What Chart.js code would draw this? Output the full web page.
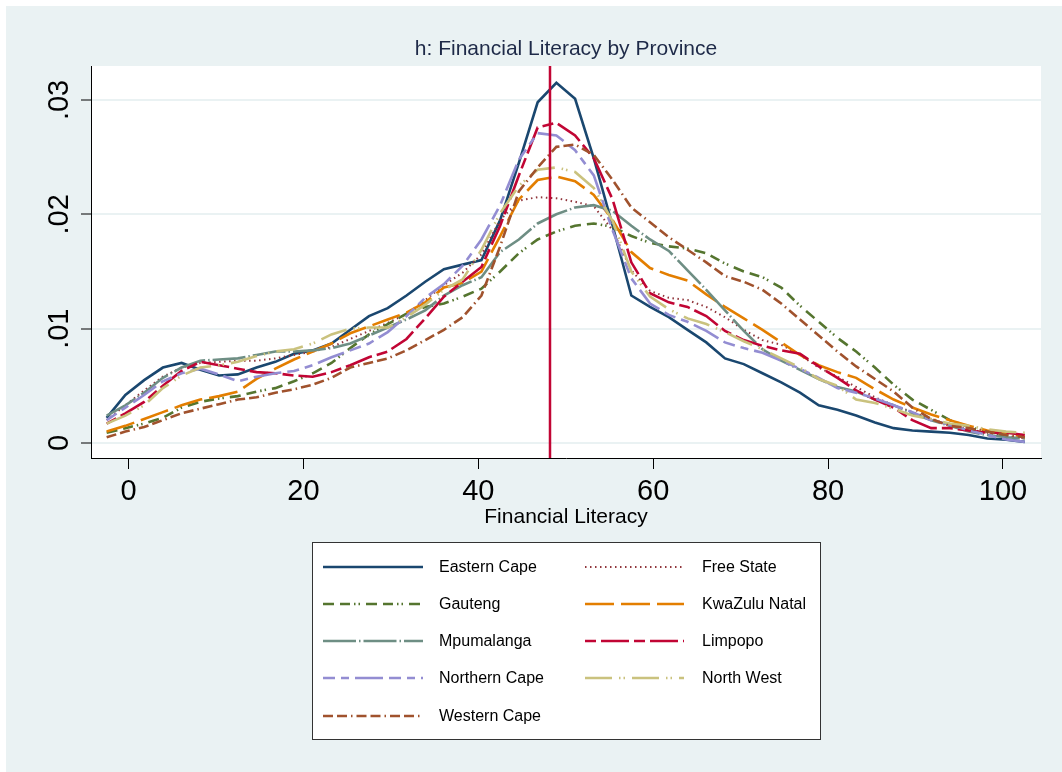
<!DOCTYPE html>
<html>
<head>
<meta charset="utf-8">
<script src="https://cdn.jsdelivr.net/npm/chart.js@4.4.1/dist/chart.umd.min.js"></script>
<style>
  html, body { margin: 0; padding: 0; background: #ffffff; }
  canvas { display: block; }
</style>
</head>
<body>
<canvas id="chart" width="1062" height="772"></canvas>
<script>
// Evaluation points of the kernel density estimates (financial literacy score)
const literacyGrid = [-2.5, -0.36, 1.79, 3.93, 6.07, 8.21, 10.36, 12.5, 14.64, 16.79,
  18.93, 21.07, 23.21, 25.36, 27.5, 29.64, 31.79, 33.93, 36.07, 38.21,
  40.36, 42.5, 44.64, 46.79, 48.93, 51.07, 53.21, 55.36, 57.5, 59.64,
  61.79, 63.93, 66.07, 68.21, 70.36, 72.5, 74.64, 76.79, 78.93, 81.07,
  83.21, 85.36, 87.5, 89.64, 91.79, 93.93, 96.07, 98.21, 100.36, 102.5];

// Density by province
const easternCape = [0.0022,0.0042,0.0055,0.0066,0.0070,0.0064,0.0059,0.0060,0.0066,0.0071,
  0.0078,0.0081,0.0087,0.0099,0.0111,0.0118,0.0129,0.0141,0.0152,0.0156,
  0.0160,0.0195,0.0245,0.0298,0.0315,0.0301,0.0249,0.0190,0.0129,0.0119,
  0.0110,0.0099,0.0088,0.0074,0.0069,0.0061,0.0053,0.0044,0.0033,0.0029,
  0.0024,0.0018,0.0013,0.0011,0.0010,0.0009,0.0007,0.0004,0.0003,0.0001];
const freeState = [0.0020,0.0033,0.0046,0.0058,0.0066,0.0070,0.0071,0.0072,0.0072,0.0074,
  0.0077,0.0080,0.0084,0.0091,0.0098,0.0105,0.0113,0.0125,0.0138,0.0149,
  0.0165,0.0195,0.0212,0.0215,0.0214,0.0211,0.0207,0.0186,0.0151,0.0133,
  0.0127,0.0125,0.0119,0.0110,0.0099,0.0090,0.0086,0.0077,0.0066,0.0058,
  0.0049,0.0040,0.0033,0.0027,0.0021,0.0016,0.0012,0.0009,0.0006,0.0004];
const gauteng = [0.0009,0.0013,0.0017,0.0022,0.0031,0.0036,0.0039,0.0041,0.0045,0.0048,
  0.0054,0.0061,0.0070,0.0083,0.0095,0.0104,0.0113,0.0119,0.0122,0.0128,
  0.0135,0.0150,0.0166,0.0178,0.0185,0.0190,0.0192,0.0189,0.0181,0.0175,
  0.0172,0.0170,0.0166,0.0157,0.0150,0.0145,0.0136,0.0120,0.0106,0.0092,
  0.0080,0.0066,0.0051,0.0038,0.0029,0.0020,0.0014,0.0010,0.0006,0.0004];
const kwaZuluNatal = [0.0010,0.0015,0.0021,0.0027,0.0033,0.0038,0.0041,0.0045,0.0056,0.0065,
  0.0073,0.0080,0.0087,0.0096,0.0102,0.0108,0.0114,0.0123,0.0136,0.0140,
  0.0150,0.0181,0.0213,0.0230,0.0233,0.0229,0.0217,0.0195,0.0167,0.0153,
  0.0147,0.0142,0.0130,0.0119,0.0109,0.0099,0.0088,0.0077,0.0068,0.0062,
  0.0057,0.0047,0.0038,0.0031,0.0025,0.0020,0.0015,0.0011,0.0009,0.0005];
const mpumalanga = [0.0024,0.0033,0.0044,0.0057,0.0066,0.0072,0.0073,0.0074,0.0077,0.0080,
  0.0080,0.0081,0.0083,0.0087,0.0094,0.0101,0.0108,0.0116,0.0129,0.0138,
  0.0145,0.0167,0.0178,0.0192,0.0200,0.0206,0.0208,0.0203,0.0190,0.0178,
  0.0168,0.0151,0.0134,0.0116,0.0098,0.0082,0.0072,0.0064,0.0056,0.0049,
  0.0045,0.0038,0.0033,0.0026,0.0020,0.0015,0.0010,0.0007,0.0005,0.0004];
const limpopo = [0.0017,0.0026,0.0036,0.0050,0.0063,0.0071,0.0068,0.0065,0.0062,0.0061,
  0.0059,0.0058,0.0062,0.0068,0.0075,0.0080,0.0091,0.0109,0.0128,0.0141,
  0.0154,0.0190,0.0234,0.0276,0.0280,0.0269,0.0249,0.0213,0.0158,0.0131,
  0.0123,0.0119,0.0111,0.0098,0.0090,0.0085,0.0081,0.0078,0.0067,0.0057,
  0.0046,0.0038,0.0031,0.0020,0.0013,0.0013,0.0011,0.0009,0.0009,0.0007];
const northernCape = [0.0020,0.0031,0.0042,0.0054,0.0061,0.0065,0.0060,0.0054,0.0058,0.0061,
  0.0063,0.0068,0.0075,0.0081,0.0087,0.0097,0.0111,0.0127,0.0139,0.0155,
  0.0178,0.0208,0.0248,0.0271,0.0269,0.0256,0.0234,0.0186,0.0144,0.0122,
  0.0112,0.0106,0.0098,0.0088,0.0083,0.0079,0.0072,0.0065,0.0057,0.0048,
  0.0044,0.0039,0.0033,0.0027,0.0020,0.0016,0.0011,0.0007,0.0003,0.0001];
const northWest = [0.0017,0.0024,0.0033,0.0048,0.0059,0.0066,0.0068,0.0071,0.0076,0.0080,
  0.0082,0.0087,0.0095,0.0100,0.0101,0.0101,0.0110,0.0121,0.0134,0.0143,
  0.0169,0.0201,0.0225,0.0239,0.0241,0.0237,0.0223,0.0194,0.0150,0.0128,
  0.0117,0.0109,0.0104,0.0097,0.0089,0.0082,0.0074,0.0066,0.0056,0.0050,
  0.0038,0.0035,0.0030,0.0024,0.0021,0.0017,0.0015,0.0012,0.0010,0.0009];
const westernCape = [0.0005,0.0010,0.0014,0.0020,0.0026,0.0030,0.0034,0.0038,0.0040,0.0044,
  0.0047,0.0051,0.0057,0.0066,0.0070,0.0074,0.0081,0.0090,0.0099,0.0110,
  0.0129,0.0172,0.0220,0.0241,0.0259,0.0261,0.0252,0.0230,0.0206,0.0193,
  0.0180,0.0169,0.0158,0.0146,0.0141,0.0134,0.0122,0.0108,0.0094,0.0080,
  0.0067,0.0056,0.0045,0.0031,0.0021,0.0015,0.0013,0.0010,0.0007,0.0005];

const provinceNames = ['Eastern Cape', 'Free State', 'Gauteng', 'KwaZulu Natal', 'Mpumalanga',
  'Limpopo', 'Northern Cape', 'North West', 'Western Cape'];
const provinceSeries = [easternCape, freeState, gauteng, kwaZuluNatal, mpumalanga,
  limpopo, northernCape, northWest, westernCape];

// Reference line at the overall mean score
const meanLiteracy = 48.2;

// Axis ticks
const xTickValues = [0, 20, 40, 60, 80, 100];
const yTickValues = [0, 0.01, 0.02, 0.03];
const yTickLabels = ['0', '.01', '.02', '.03'];

// Axis ranges
const xRange = [-4.29, 104.35];
const yRange = [-0.00131, 0.03297];

const FONT = "'Liberation Sans', Arial, Helvetica, sans-serif";
Chart.defaults.font.family = FONT;

// Line styles per province (colour, dash pattern, width)
const lineStyles = [
  { color: '#1A476F', dash: [], width: 2.6 },
  { color: '#90353B', dash: [1.5, 3.5], width: 2 },
  { color: '#55752F', dash: [11, 6, 10, 4, 1.5, 3, 1.5, 6], width: 2.6 },
  { color: '#E37E00', dash: [29, 7], width: 2.6 },
  { color: '#6E8E84', dash: [33, 3, 1.5, 3], width: 2.6 },
  { color: '#C10534', dash: [11, 5, 28, 5], width: 2.6 },
  { color: '#938DD2', dash: [12, 6, 8, 6, 28, 6], width: 2.6 },
  { color: '#CAC27E', dash: [27, 7, 1.5, 3, 1.5, 7], width: 2.6 },
  { color: '#A0522D', dash: [10, 4, 10, 4, 1.5, 4], width: 2.6 }
];

const provinceDatasets = provinceSeries.map((series, i) => ({
  label: provinceNames[i],
  data: literacyGrid.map((x, j) => ({ x: x, y: series[j] })),
  borderColor: lineStyles[i].color,
  borderDash: lineStyles[i].dash,
  borderWidth: lineStyles[i].width,
  pointRadius: 0,
  tension: 0,
  fill: false,
  order: 10 - i
}));

const meanDataset = {
  label: 'mean',
  data: [{ x: meanLiteracy, y: yRange[0] }, { x: meanLiteracy, y: yRange[1] }],
  borderColor: '#C10534',
  borderWidth: 2.5,
  pointRadius: 0,
  fill: false,
  order: 0,
  isReference: true
};

// Page and plot-region backgrounds
const backgroundPlugin = {
  id: 'backgrounds',
  beforeDraw(chart) {
    const { ctx, chartArea: a } = chart;
    ctx.save();
    ctx.fillStyle = '#ffffff';
    ctx.fillRect(0, 0, chart.width, chart.height);
    ctx.fillStyle = '#EAF2F3';
    ctx.fillRect(6, 6, chart.width - 6, chart.height - 6);
    ctx.fillStyle = '#ffffff';
    ctx.fillRect(a.left, a.top, a.right - a.left, a.bottom - a.top);
    ctx.restore();
  }
};

// Two-column legend box under the axis
const legendPlugin = {
  id: 'provinceLegend',
  afterDraw(chart) {
    const { ctx } = chart;
    const box = { x: 312.5, y: 542.5, w: 508, h: 197 };
    const rowY = [567, 604, 641, 678, 716];
    const cols = [
      { x1: 323, x2: 423, tx: 439 },
      { x1: 585, x2: 684, tx: 702 }
    ];
    ctx.save();
    ctx.fillStyle = '#ffffff';
    ctx.fillRect(box.x, box.y, box.w, box.h);
    ctx.strokeStyle = '#333333';
    ctx.lineWidth = 1;
    ctx.setLineDash([]);
    ctx.strokeRect(box.x, box.y, box.w, box.h);
    const items = chart.data.datasets.filter(d => !d.isReference);
    ctx.font = '16px ' + FONT;
    ctx.textBaseline = 'middle';
    ctx.textAlign = 'left';
    items.forEach((ds, i) => {
      const row = Math.floor(i / 2);
      const col = cols[i % 2];
      const y = rowY[row];
      ctx.beginPath();
      ctx.setLineDash(ds.borderDash || []);
      ctx.lineWidth = ds.borderWidth;
      ctx.strokeStyle = ds.borderColor;
      ctx.moveTo(col.x1, y);
      ctx.lineTo(col.x2, y);
      ctx.stroke();
      ctx.setLineDash([]);
      ctx.fillStyle = '#000000';
      ctx.fillText(ds.label, col.tx, y + 1);
    });
    ctx.restore();
  }
};

new Chart(document.getElementById('chart'), {
  type: 'line',
  data: { datasets: [...provinceDatasets, meanDataset] },
  options: {
    responsive: false,
    animation: false,
    devicePixelRatio: 1,
    parsing: true,
    layout: { padding: { left: 0, right: 21, top: 0, bottom: 234 } },
    plugins: {
      legend: { display: false },
      tooltip: { enabled: false },
      title: {
        display: true,
        fullSize: false,
        text: 'h: Financial Literacy by Province',
        color: '#1E2A48',
        font: { size: 21, weight: 'normal', family: FONT },
        padding: { top: 37, bottom: 3.8 }
      }
    },
    scales: {
      x: {
        type: 'linear',
        min: xRange[0],
        max: xRange[1],
        afterBuildTicks(scale) { scale.ticks = xTickValues.map(v => ({ value: v })); },
        afterFit(scale) { scale.height = 80; },
        ticks: {
          color: '#000000',
          font: { size: 29 },
          padding: 6,
          maxRotation: 0,
          minRotation: 0,
          callback: v => String(v)
        },
        grid: {
          drawOnChartArea: false,
          drawTicks: true,
          tickLength: 11,
          tickColor: '#000000',
          tickWidth: 1
        },
        border: { color: '#000000', width: 1 },
        title: {
          display: true,
          text: 'Financial Literacy',
          color: '#000000',
          font: { size: 21 },
          padding: { top: 0, bottom: 8 }
        }
      },
      y: {
        type: 'linear',
        min: yRange[0],
        max: yRange[1],
        afterBuildTicks(scale) { scale.ticks = yTickValues.map(v => ({ value: v })); },
        afterFit(scale) { scale.width = 91; },
        ticks: {
          color: '#000000',
          font: { size: 29 },
          minRotation: 90,
          maxRotation: 90,
          crossAlign: 'center',
          padding: 1,
          callback: (v, i) => yTickLabels[i]
        },
        grid: {
          color: '#EAF2F3',
          lineWidth: 2,
          drawTicks: true,
          tickLength: 10,
          tickColor: '#000000',
          tickWidth: 1
        },
        border: { color: '#000000', width: 1 }
      }
    }
  },
  plugins: [backgroundPlugin, legendPlugin]
});
</script>
</body>
</html>
